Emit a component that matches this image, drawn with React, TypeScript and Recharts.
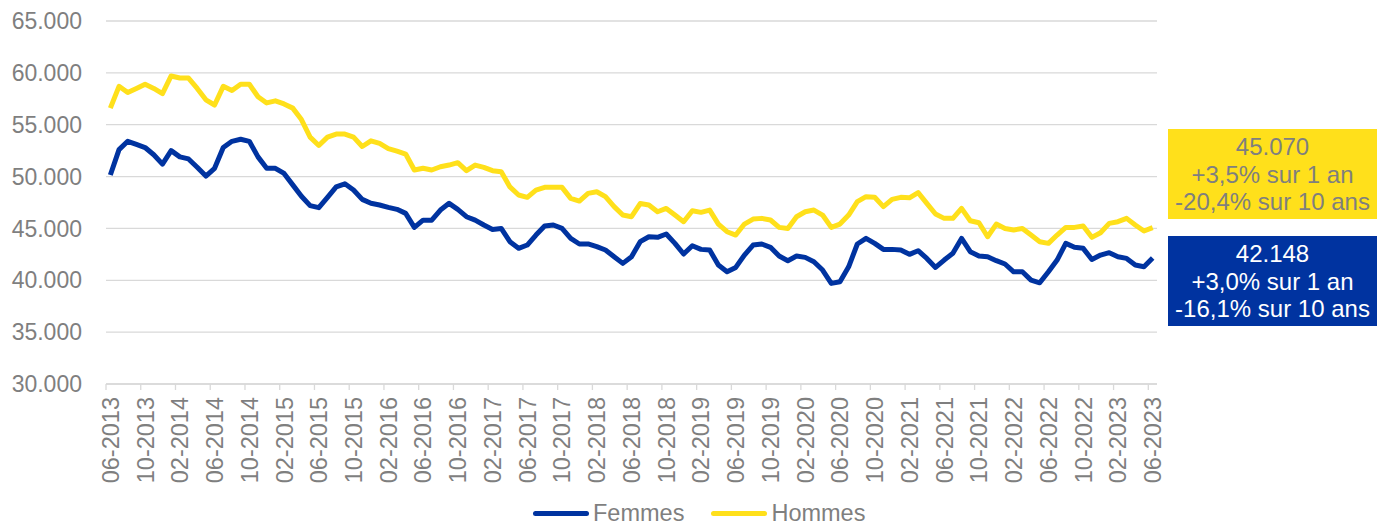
import { CartesianGrid, Legend, Line, LineChart, XAxis, YAxis } from "recharts";

const FONT = '"Liberation Sans", Arial, sans-serif';
const GREY = "#7f7f7f";
const BLUE = "#0033a0";
const YELLOW = "#ffe01b";

// monthly categories 06-2013 .. 06-2023
const months: string[] = [];
for (let i = 0; i < 121; i++) {
  const m = ((5 + i) % 12) + 1;
  const y = 2013 + Math.floor((5 + i) / 12);
  months.push(`${String(m).padStart(2, "0")}-${y}`);
}

const tickLabels = [
  "06-2013", "10-2013", "02-2014", "06-2014", "10-2014", "02-2015", "06-2015", "10-2015",
  "02-2016", "06-2016", "10-2016", "02-2017", "06-2017", "10-2017", "02-2018", "06-2018",
  "10-2018", "02-2019", "06-2019", "10-2019", "02-2020", "06-2020", "10-2020", "02-2021",
  "06-2021", "10-2021", "02-2022", "06-2022", "10-2022", "02-2023", "06-2023",
];

const femmes = [
  50150, 52600, 53400, 53100, 52800, 52100, 51200, 52500, 51900, 51700,
  50900, 50050, 50800, 52800, 53400, 53600, 53400, 51900, 50800, 50800,
  50300, 49200, 48100, 47200, 47000, 48000, 49000, 49300, 48700, 47800,
  47420, 47260, 47030, 46840, 46450, 45100, 45800, 45800, 46770, 47420,
  46840, 46130, 45800, 45330, 44900, 45000, 43720, 43080, 43400, 44360,
  45230, 45330, 45000, 44040, 43500, 43500, 43240, 42920, 42270, 41630,
  42270, 43720, 44200, 44140, 44460, 43560, 42530, 43330, 42980, 42920,
  41470, 40820, 41240, 42430, 43400, 43500, 43180, 42340, 41890, 42340,
  42210, 41790, 40990, 39700, 39860, 41300, 43500, 44040, 43560, 42980,
  42980, 42920, 42500, 42850, 42110, 41240, 41950, 42600, 44040, 42760,
  42340, 42270, 41890, 41570, 40820, 40820, 40020, 39760, 40820, 41950,
  43560, 43180, 43080, 42010, 42430, 42660, 42270, 42110, 41470, 41310,
  42148,
];

const hommes = [
  56600, 58700, 58100, 58500, 58900, 58500, 58000, 59700, 59500, 59500,
  58500, 57400, 56900, 58700, 58300, 58900, 58900, 57700, 57100, 57300,
  57000, 56600, 55500, 53800, 53000, 53800, 54100, 54100, 53800, 52900,
  53450, 53200, 52700, 52450, 52170, 50630, 50800, 50630, 50950, 51110,
  51340, 50570, 51110, 50890, 50570, 50470, 49000, 48220, 48000, 48700,
  48960, 48960, 48960, 47900, 47640, 48380, 48540, 48060, 47100, 46290,
  46130, 47400, 47260, 46610, 46930, 46290, 45650, 46710, 46550, 46770,
  45420, 44680, 44360, 45420, 45900, 45970, 45810, 45100, 45000, 46130,
  46610, 46770, 46290, 45100, 45420, 46290, 47580, 48060, 48000, 47100,
  47800, 48000, 47950, 48450, 47420, 46390, 45970, 45970, 46930, 45740,
  45550, 44200, 45420, 45000, 44850, 45000, 44360, 43720, 43560, 44360,
  45100, 45100, 45230, 44140, 44590, 45490, 45650, 45970, 45330, 44750,
  45070,
];

const yTicks = [30000, 35000, 40000, 45000, 50000, 55000, 60000, 65000];

const hommesNote = ["45.070", "+3,5% sur 1 an", "-20,4% sur 10 ans"];
const femmesNote = ["42.148", "+3,0% sur 1 an", "-16,1% sur 10 ans"];

const data = months.map((month, i) => ({ month, femmes: femmes[i], hommes: hommes[i] }));

const HALF_BAND = 1051 / 121 / 2;

function MonthTick({ x, y, payload }: { x?: number; y?: number; payload?: { value: string } }) {
  return (
    <g>
      <line x1={x! - HALF_BAND} x2={x! - HALF_BAND} y1={y!} y2={y! + 6} stroke="#d9d9d9" strokeWidth={1.3} />
      <text
        x={x}
        y={y! + 13}
        transform={`rotate(-90 ${x} ${y! + 13})`}
        textAnchor="end"
        dy="0.36em"
        fill={GREY}
        fontSize={23.5}
        fontFamily={FONT}
      >
        {payload!.value}
      </text>
    </g>
  );
}

function LegendContent() {
  const items = [
    { name: "Femmes", color: BLUE },
    { name: "Hommes", color: YELLOW },
  ];
  return (
    <div style={{ display: "flex", alignItems: "center", height: 30, fontFamily: FONT, fontSize: 23.5, color: GREY }}>
      {items.map((it, i) => (
        <div key={it.name} style={{ display: "flex", alignItems: "center", marginLeft: i ? 27 : 0 }}>
          <span style={{ display: "inline-block", width: 56, height: 5, borderRadius: 3, background: it.color, marginRight: 4 }} />
          <span>{it.name}</span>
        </div>
      ))}
    </div>
  );
}

function Note({ lines, top, bg, color }: { lines: string[]; top: number; bg: string; color: string }) {
  return (
    <div
      style={{
        position: "absolute",
        left: 1168,
        top,
        width: 209,
        height: 90,
        background: bg,
        color,
        fontFamily: FONT,
        fontSize: 24,
        lineHeight: "27.5px",
        textAlign: "center",
        paddingTop: 4,
        boxSizing: "border-box",
        whiteSpace: "nowrap",
      }}
    >
      {lines.map((l) => (
        <div key={l}>{l}</div>
      ))}
    </div>
  );
}

export default function App() {
  return (
    <div style={{ position: "relative", width: 1377, height: 524, background: "#fff" }}>
      <style>{"body{margin:0}"}</style>
      <LineChart width={1377} height={524} data={data} margin={{ top: 21, right: 220, bottom: 0, left: 0 }}>
        <CartesianGrid vertical={false} stroke="#d9d9d9" strokeWidth={1.3} />
        <XAxis
          dataKey="month"
          ticks={tickLabels}
          interval={0}
          height={140}
          padding={{ left: HALF_BAND, right: HALF_BAND }}
          tickLine={false}
          tickSize={0}
          tickMargin={0}
          axisLine={{ stroke: "#d9d9d9", strokeWidth: 1.3 }}
          tick={<MonthTick />}
        />
        <YAxis
          domain={[30000, 65000]}
          ticks={yTicks}
          width={106}
          axisLine={false}
          tickLine={false}
          tickSize={0}
          tickMargin={24}
          tickFormatter={(v: number) => (v / 1000).toFixed(3)}
          tick={{ fill: GREY, fontSize: 23, fontFamily: FONT }}
        />
        <Legend
          layout="horizontal"
          verticalAlign="middle"
          align="center"
          content={<LegendContent />}
          wrapperStyle={{ top: 498, left: 533, width: "auto", height: 30 }}
        />
        <Line
          type="linear"
          dataKey="femmes"
          name="Femmes"
          stroke={BLUE}
          strokeWidth={5}
          strokeLinejoin="round"
          dot={false}
          isAnimationActive={false}
        />
        <Line
          type="linear"
          dataKey="hommes"
          name="Hommes"
          stroke={YELLOW}
          strokeWidth={5}
          strokeLinejoin="round"
          dot={false}
          isAnimationActive={false}
        />
      </LineChart>
      <Note lines={hommesNote} top={129} bg={YELLOW} color={GREY} />
      <Note lines={femmesNote} top={236} bg={BLUE} color="#fff" />
    </div>
  );
}
